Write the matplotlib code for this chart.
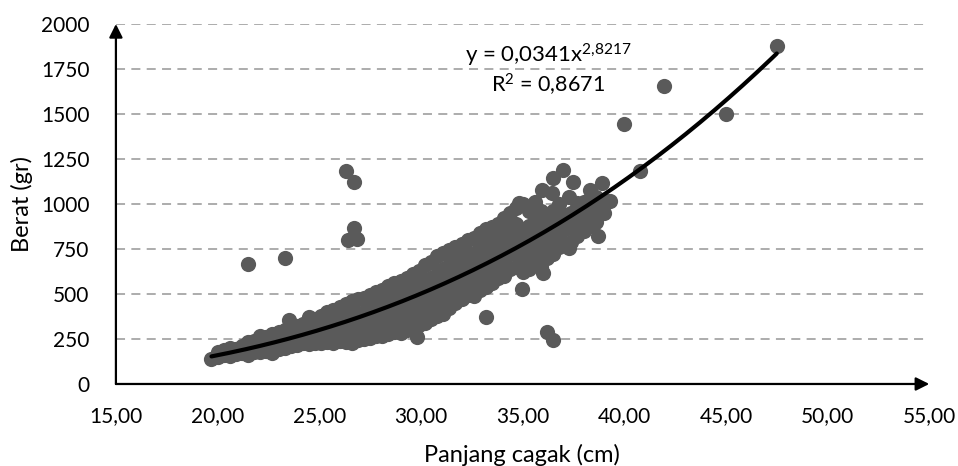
import numpy as np
import matplotlib
matplotlib.use("Agg")
import matplotlib.pyplot as plt

plt.rcParams['font.family'] = ['Lato', 'DejaVu Sans']
plt.rcParams['mathtext.fontset'] = 'custom'
plt.rcParams['mathtext.rm'] = 'Lato'
plt.rcParams['mathtext.it'] = 'Lato:italic'

# data (panjang cagak in cm, berat in gr)
panjang = [
    19.7,
    20.0, 20.0,
    20.3, 20.3,
    20.6, 20.6, 20.6,
    20.9, 20.9,
    21.2, 21.2,
    21.5, 21.5, 21.5, 21.5,
    21.8, 21.8, 21.8,
    22.1, 22.1, 22.1,
    22.4, 22.4, 22.4,
    22.7, 22.7, 22.7, 22.7,
    23.0, 23.0, 23.0,
    23.3, 23.3, 23.3, 23.3, 23.5,
    23.6, 23.6, 23.6,
    23.9, 23.9, 23.9,
    24.2, 24.2, 24.2,
    24.5, 24.5, 24.5, 24.5,
    24.8, 24.8, 24.8,
    25.1, 25.1, 25.1, 25.1,
    25.4, 25.4, 25.4, 25.4,
    25.7, 25.7, 25.7, 25.7,
    26.0, 26.0, 26.0, 26.0,
    26.3, 26.3, 26.3, 26.3, 26.3, 26.4,
    26.6, 26.6, 26.6, 26.6, 26.6,
    26.7, 26.7, 26.85,
    26.9, 26.9, 26.9, 26.9,
    27.2, 27.2, 27.2, 27.2,
    27.5, 27.5, 27.5, 27.5, 27.5,
    27.8, 27.8, 27.8, 27.8, 27.8,
    28.1, 28.1, 28.1, 28.1, 28.1,
    28.4, 28.4, 28.4, 28.4, 28.4,
    28.7, 28.7, 28.7, 28.7, 28.7,
    29.0, 29.0, 29.0, 29.0, 29.0,
    29.3, 29.3, 29.3, 29.3, 29.3,
    29.6, 29.6, 29.6, 29.6, 29.6,
    29.8,
    29.9, 29.9, 29.9, 29.9, 29.9,
    30.2, 30.2, 30.2, 30.2, 30.2,
    30.5, 30.5, 30.5, 30.5, 30.5,
    30.8, 30.8, 30.8, 30.8, 30.8,
    31.1, 31.1, 31.1, 31.1, 31.1,
    31.4, 31.4, 31.4, 31.4, 31.4,
    31.7, 31.7, 31.7, 31.7, 31.7,
    32.0, 32.0, 32.0, 32.0, 32.0,
    32.3, 32.3, 32.3, 32.3, 32.3,
    32.6, 32.6, 32.6, 32.6, 32.6,
    32.9, 32.9, 32.9, 32.9, 32.9,
    33.2, 33.2, 33.2, 33.2, 33.2, 33.2,
    33.5, 33.5, 33.5, 33.5, 33.5,
    33.8, 33.8, 33.8, 33.8, 33.8,
    34.1, 34.1, 34.1, 34.1, 34.1,
    34.4, 34.4, 34.4, 34.4, 34.4,
    34.7, 34.7, 34.7, 34.7, 34.7,
    34.8, 34.98,
    35.0, 35.0, 35.0, 35.0, 35.0,
    35.3, 35.3, 35.3, 35.3, 35.3,
    35.6, 35.6, 35.6, 35.6, 35.6,
    35.9, 35.9, 35.9, 35.9, 35.9, 35.95, 36.0,
    36.2, 36.2, 36.2, 36.2, 36.2,
    36.45, 36.5, 36.5, 36.5, 36.5, 36.5, 36.5,
    36.8, 36.8, 36.8, 36.8,
    37.0, 37.1, 37.1, 37.1,
    37.3, 37.3, 37.4, 37.4, 37.4, 37.5,
    37.7, 37.7, 37.7, 37.7,
    38.0, 38.0, 38.0,
    38.3, 38.3, 38.3,
    38.6, 38.6, 38.6, 38.7, 38.8, 38.9,
    39.0, 39.0, 39.3,
    40.0, 40.78, 41.96, 45.0, 47.5,
]
berat = [
    139,
    150, 175,
    160, 190,
    155, 185, 200,
    165, 195,
    170, 210,
    160, 200, 235, 667,
    175, 215, 240,
    180, 230, 265,
    185, 225, 260,
    170, 210, 250, 280,
    195, 240, 290,
    200, 250, 300, 700, 356,
    210, 255, 310,
    215, 270, 320,
    225, 280, 335,
    220, 290, 350, 372,
    230, 300, 360,
    225, 280, 330, 380,
    235, 300, 360, 400,
    230, 290, 350, 410,
    240, 310, 370, 430,
    235, 300, 380, 445, 1183, 800,
    225, 290, 350, 420, 460,
    1122, 867, 805,
    245, 320, 390, 470,
    250, 330, 400, 480,
    255, 310, 370, 440, 495,
    265, 340, 410, 470, 510,
    265, 330, 400, 460, 520,
    275, 350, 420, 490, 545,
    290, 360, 430, 500, 560,
    285, 350, 420, 490, 570,
    300, 370, 440, 520, 590,
    310, 380, 460, 540, 610,
    261,
    330, 400, 470, 550, 630,
    340, 410, 490, 570, 660,
    360, 430, 510, 590, 680,
    375, 450, 530, 610, 710,
    390, 470, 550, 640, 730,
    420, 490, 570, 660, 745,
    450, 520, 600, 680, 760,
    470, 540, 620, 700, 780,
    495, 570, 650, 730, 800,
    490, 560, 640, 720, 810,
    520, 600, 680, 760, 840,
    540, 620, 700, 780, 860, 373,
    560, 640, 720, 800, 870,
    590, 660, 740, 820, 890,
    600, 680, 760, 840, 920,
    640, 720, 800, 880, 950,
    650, 730, 810, 890, 980,
    1005, 527,
    620, 700, 780, 860, 1000,
    640, 720, 800, 880, 960,
    680, 760, 850, 930, 1010,
    650, 720, 800, 880, 960, 1078, 615,
    700, 780, 860, 940, 289,
    1061, 1144, 720, 800, 880, 960, 244,
    760, 840, 920, 1000,
    1189, 780, 860, 940,
    753, 1039, 790, 870, 950, 1122,
    820, 900, 980, 1005,
    850, 930, 1010,
    880, 960, 1078,
    900, 980, 1040, 823, 950, 1117,
    950, 1020, 1017,
    1444, 1185, 1656, 1500, 1878,
]

# trendline shown on the chart: y = 0,0341 x^2,8217
koef_a = 0.0341
koef_b = 2.8217
x_awal, x_akhir = 19.7, 47.5

x_ticks = [15, 20, 25, 30, 35, 40, 45, 50, 55]
y_ticks = [0, 250, 500, 750, 1000, 1250, 1500, 1750, 2000]

fig = plt.figure(figsize=(9.58, 4.66), dpi=100)
ax = fig.add_axes([0.121, 0.176, 0.849, 0.7725])

ax.scatter(panjang, berat, s=120, color='#5a5a5a', linewidths=0, zorder=3)

xf = np.linspace(x_awal, x_akhir, 200)
ax.plot(xf, koef_a * xf ** koef_b, color='black', lw=3, zorder=4,
        solid_capstyle='round')

ax.set_xlim(15, 55)
ax.set_ylim(0, 2000)
ax.set_xticks(x_ticks)
ax.set_yticks(y_ticks)
ax.set_xticklabels([f"{v:.2f}".replace('.', ',') for v in x_ticks])
ax.set_yticklabels([str(v) for v in y_ticks])
ax.tick_params(length=0, labelsize=15)
ax.tick_params(axis='y', pad=19)
ax.tick_params(axis='x', pad=16)

for v in y_ticks[1:]:
    ax.axhline(v, color='#a6a6a6', lw=1.3, ls=(0, (5, 3.5)), zorder=1)

for s in ax.spines.values():
    s.set_visible(False)

# axes with arrow heads
ax.annotate('', xy=(0, 1), xytext=(0, 0), xycoords='axes fraction',
            arrowprops=dict(arrowstyle='-|>', lw=1.6, color='black',
                            mutation_scale=20, shrinkA=0, shrinkB=0),
            zorder=5, annotation_clip=False)
ax.annotate('', xy=(1, 0), xytext=(0, 0), xycoords='axes fraction',
            arrowprops=dict(arrowstyle='-|>', lw=1.6, color='black',
                            mutation_scale=20, shrinkA=0, shrinkB=0),
            zorder=5, annotation_clip=False)

ax.text(36.25, 1828, r"y = 0,0341x$^{\mathregular{2{,}8217}}$", fontsize=16,
        ha='center', va='center')
ax.text(36.25, 1661, r"R$^{\mathregular{2}}$ = 0,8671", fontsize=15.5,
        ha='center', va='center')

fig.text(22 / 958, 1 - 204 / 466, "Berat (gr)", rotation=90, fontsize=17,
         ha='center', va='center')
fig.text(522 / 958, 1 - 455 / 466, "Panjang cagak (cm)", fontsize=17,
         ha='center', va='center')

fig.savefig("out.png", dpi=100)
